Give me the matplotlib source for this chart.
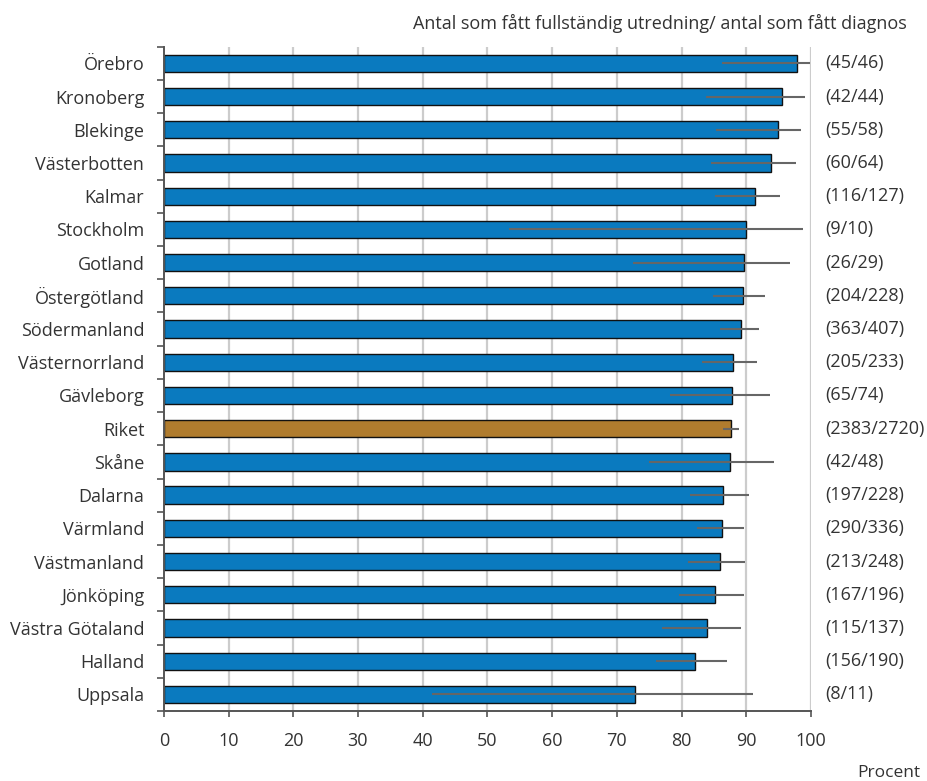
import numpy as np
import matplotlib.pyplot as plt
from matplotlib.ticker import FixedLocator

plt.rcParams['font.family'] = ['Open Sans', 'DejaVu Sans']

# regioner, sorterade efter andel (högst överst)
regioner = ['Örebro', 'Kronoberg', 'Blekinge', 'Västerbotten', 'Kalmar',
            'Stockholm', 'Gotland', 'Östergötland', 'Södermanland',
            'Västernorrland', 'Gävleborg', 'Riket', 'Skåne', 'Dalarna',
            'Värmland', 'Västmanland', 'Jönköping', 'Västra Götaland',
            'Halland', 'Uppsala']
utredda = [45, 42, 55, 60, 116, 9, 26, 204, 363, 205, 65, 2383, 42, 197,
           290, 213, 167, 115, 156, 8]
diagnos = [46, 44, 58, 64, 127, 10, 29, 228, 407, 233, 74, 2720, 48, 228,
           336, 248, 196, 137, 190, 11]
# konfidensintervall (procent)
ki_lag = [86.3, 83.7, 85.3, 84.6, 85.1, 53.4, 72.5, 84.8, 85.9, 83.2, 78.2,
          86.4, 74.9, 81.3, 82.3, 81.0, 79.6, 76.9, 76.1, 41.5]
ki_hog = [99.9, 99.0, 98.5, 97.7, 95.2, 98.7, 96.7, 92.9, 91.9, 91.6, 93.6,
          88.9, 94.3, 90.4, 89.7, 89.8, 89.6, 89.2, 87.0, 91.0]

andel = 100 * np.array(utredda) / np.array(diagnos)
y = np.arange(len(regioner))
farger = ['#b07c2e' if r == 'Riket' else '#0a7abf' for r in regioner]
textfarg = '#333333'

fig = plt.figure(figsize=(9.28, 7.81), dpi=100)
ax = fig.add_axes([0.1765, 0.0896, 0.6975, 0.8506])

ax.barh(y, andel, height=0.52, color=farger, edgecolor='#111111',
        linewidth=1.0, zorder=2)
ax.hlines(y, ki_lag, ki_hog, color='#666666', linewidth=1.5, zorder=3)

ax.set_xlim(0, 100)
ax.set_ylim(len(regioner) - 0.5, -0.5)

ax.set_xticks(np.arange(0, 101, 10))
for v in range(10, 101, 10):
    ax.axvline(v, color='#cccccc', linewidth=1.6, zorder=1)

ax.set_yticks(y)
ax.set_yticklabels(regioner)
ax.yaxis.set_minor_locator(FixedLocator(np.arange(-0.5, len(regioner), 1)))
ax.tick_params(axis='y', which='major', length=0, pad=14,
               labelsize=13, labelcolor=textfarg)
ax.tick_params(axis='y', which='minor', length=5, width=1.2,
               color='#555555')
ax.tick_params(axis='x', length=4, width=1.2, color='#555555', pad=11,
               labelsize=13, labelcolor=textfarg)

for s in ['top', 'right']:
    ax.spines[s].set_visible(False)
for s in ['left', 'bottom']:
    ax.spines[s].set_color('#555555')
    ax.spines[s].set_linewidth(1.4)

for yi, u, d in zip(y, utredda, diagnos):
    ax.annotate(f'({u}/{d})', xy=(1, yi), xycoords=('axes fraction', 'data'),
                xytext=(10, 0), textcoords='offset points', va='center',
                ha='left', fontsize=13, color=textfarg)

fig.text(0.977, 0.970, 'Antal som fått fullständig utredning/ antal som fått diagnos',
         ha='right', va='center', fontsize=13, color=textfarg)
fig.text(0.992, 0.0102, 'Procent', ha='right', va='center', fontsize=12.5,
         color=textfarg)

fig.savefig('out.png', dpi=100)
